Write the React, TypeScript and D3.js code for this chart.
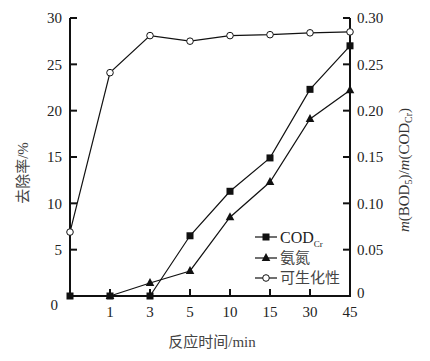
import React from "react";
import * as d3 from "d3";

const timeLabels = ["0", "1", "3", "5", "10", "15", "30", "45"];
const codValues: (number | null)[] = [0, 0, 0, 6.5, 11.3, 14.9, 22.3, 27.0];
const ammoniaValues: (number | null)[] = [null, 0, 1.4, 2.7, 8.5, 12.3, 19.1, 22.2];
const biodegValues: (number | null)[] = [0.069, 0.241, 0.281, 0.275, 0.281, 0.282, 0.284, 0.285];
const leftTicks = [0, 5, 10, 15, 20, 25, 30];
const rightTicks = [0, 0.05, 0.1, 0.15, 0.2, 0.25, 0.3];
const legendLabels = ["COD", "氨氮", "可生化性"];

const W = 430, H = 361;
const M = { left: 70, right: 350, top: 18, bottom: 296 };
const serif = "'Liberation Serif', 'DejaVu Serif', serif";
const cjk = "'Noto Sans CJK SC', sans-serif";

export default function App() {
  const x = d3.scalePoint<string>().domain(timeLabels).range([M.left, M.right]);
  const yL = d3.scaleLinear().domain([0, 30]).range([M.bottom, M.top]);
  const yR = d3.scaleLinear().domain([0, 0.3]).range([M.bottom, M.top]);

  const mkLine = (vals: (number | null)[], y: d3.ScaleLinear<number, number>) => {
    const pts = vals
      .map((v, i) => (v == null ? null : ([x(timeLabels[i])!, y(v)] as [number, number])))
      .filter((p): p is [number, number] => p != null);
    return { path: d3.line()(pts) || "", pts };
  };

  const cod = mkLine(codValues, yL);
  const amm = mkLine(ammoniaValues, yL);
  const bio = mkLine(biodegValues, yR);

  const sq = (cx: number, cy: number, k: string) => (
    <rect key={k} x={cx - 3.5} y={cy - 3.5} width={7} height={7} fill="#111" />
  );
  const tri = (cx: number, cy: number, k: string) => (
    <path key={k} d={`M${cx},${cy - 5}L${cx + 4.3},${cy + 3}L${cx - 4.3},${cy + 3}Z`} fill="#111" />
  );
  const circ = (cx: number, cy: number, k: string) => (
    <circle key={k} cx={cx} cy={cy} r={3.3} fill="#fff" stroke="#111" strokeWidth={1} />
  );

  const legendX = 255;
  const legendRows = [237, 258, 278];

  return (
    <svg width={W} height={H} style={{ position: "absolute", left: 0, top: 0, background: "#fff" }}>
      {/* axes frame */}
      <g stroke="#111" strokeWidth={2} fill="none">
        <line x1={M.left} y1={M.top} x2={M.left} y2={M.bottom} />
        <line x1={M.right} y1={M.top} x2={M.right} y2={M.bottom} />
        <line x1={M.left - 1} y1={M.bottom} x2={M.right + 1} y2={M.bottom} />
      </g>
      {/* left ticks */}
      {leftTicks.map((t) => (
        <g key={"l" + t}>
          {t > 0 && <line x1={M.left} x2={M.left + 7} y1={yL(t)} y2={yL(t)} stroke="#111" strokeWidth={2} />}
          <text
            x={t === 0 ? 58 : 62}
            y={t === 0 ? yL(t) + 9 : yL(t)}
            dy="0.35em"
            textAnchor="end"
            fontFamily={serif}
            fontSize={15}
            fill="#222"
          >
            {t}
          </text>
        </g>
      ))}
      {/* right ticks */}
      {rightTicks.map((t) => (
        <g key={"r" + t}>
          {t > 0 && <line x1={M.right - 7} x2={M.right} y1={yR(t)} y2={yR(t)} stroke="#111" strokeWidth={2} />}
          <text x={357} y={yR(t) - (t === 0 ? 3 : 0)} dy="0.35em" textAnchor="start" fontFamily={serif} fontSize={15} fill="#222">
            {t === 0 ? "0" : t.toFixed(2)}
          </text>
        </g>
      ))}
      {/* x ticks */}
      {timeLabels.map((t, i) => (
        <g key={"x" + t}>
          {i > 0 && i < timeLabels.length - 1 && (
            <line x1={x(t)!} x2={x(t)!} y1={M.bottom} y2={M.bottom - 7} stroke="#111" strokeWidth={2} />
          )}
          {i > 0 && (
            <text x={x(t)!} y={312} dy="0.35em" textAnchor="middle" fontFamily={serif} fontSize={15} fill="#222">
              {t}
            </text>
          )}
        </g>
      ))}
      {/* axis titles */}
      <text x={212} y={342} dy="0.35em" textAnchor="middle" fontFamily={cjk} fontSize={15} fill="#444">
        反应时间<tspan fontFamily={serif}>/min</tspan>
      </text>
      <text
        transform={`translate(23,173) rotate(-90)`}
        dy="0.35em"
        textAnchor="middle"
        fontFamily={cjk}
        fontSize={15}
        fill="#444"
      >
        去除率<tspan fontFamily={serif}>/%</tspan>
      </text>
      <text
        transform={`translate(404,170) rotate(-90)`}
        dy="0.35em"
        textAnchor="middle"
        fontFamily={serif}
        fontSize={15}
        fill="#333"
      >
        <tspan fontStyle="italic">m</tspan>(BOD<tspan fontSize={10} dy="3">5</tspan>
        <tspan dy="-3">)/</tspan>
        <tspan fontStyle="italic">m</tspan>(COD<tspan fontSize={10} dy="3">Cr</tspan>
        <tspan dy="-3">)</tspan>
      </text>
      {/* series lines */}
      <g fill="none" stroke="#111" strokeWidth={1.2}>
        <path d={bio.path} />
        <path d={cod.path} />
        <path d={amm.path} />
      </g>
      {amm.pts.map((p, i) => tri(p[0], p[1], "a" + i))}
      {cod.pts.map((p, i) => sq(p[0], p[1], "c" + i))}
      {bio.pts.map((p, i) => circ(p[0], p[1], "b" + i))}
      {/* legend */}
      <g>
        {legendRows.map((ly, i) => (
          <g key={"lg" + i}>
            <line x1={legendX} x2={legendX + 22} y1={ly} y2={ly} stroke="#111" strokeWidth={1.2} />
            {i === 0 && sq(legendX + 11, ly, "ls0")}
            {i === 1 && tri(legendX + 11, ly, "ls1")}
            {i === 2 && circ(legendX + 11, ly, "ls2")}
            {i === 0 ? (
              <text x={legendX + 25} y={ly} dy="0.35em" fontFamily={serif} fontSize={16} fill="#222">
                {legendLabels[0]}
                <tspan fontSize={9} dy="4">Cr</tspan>
              </text>
            ) : (
              <text x={legendX + 25} y={ly} dy="0.35em" fontFamily={cjk} fontSize={15} fill="#444">
                {legendLabels[i]}
              </text>
            )}
          </g>
        ))}
      </g>
    </svg>
  );
}
